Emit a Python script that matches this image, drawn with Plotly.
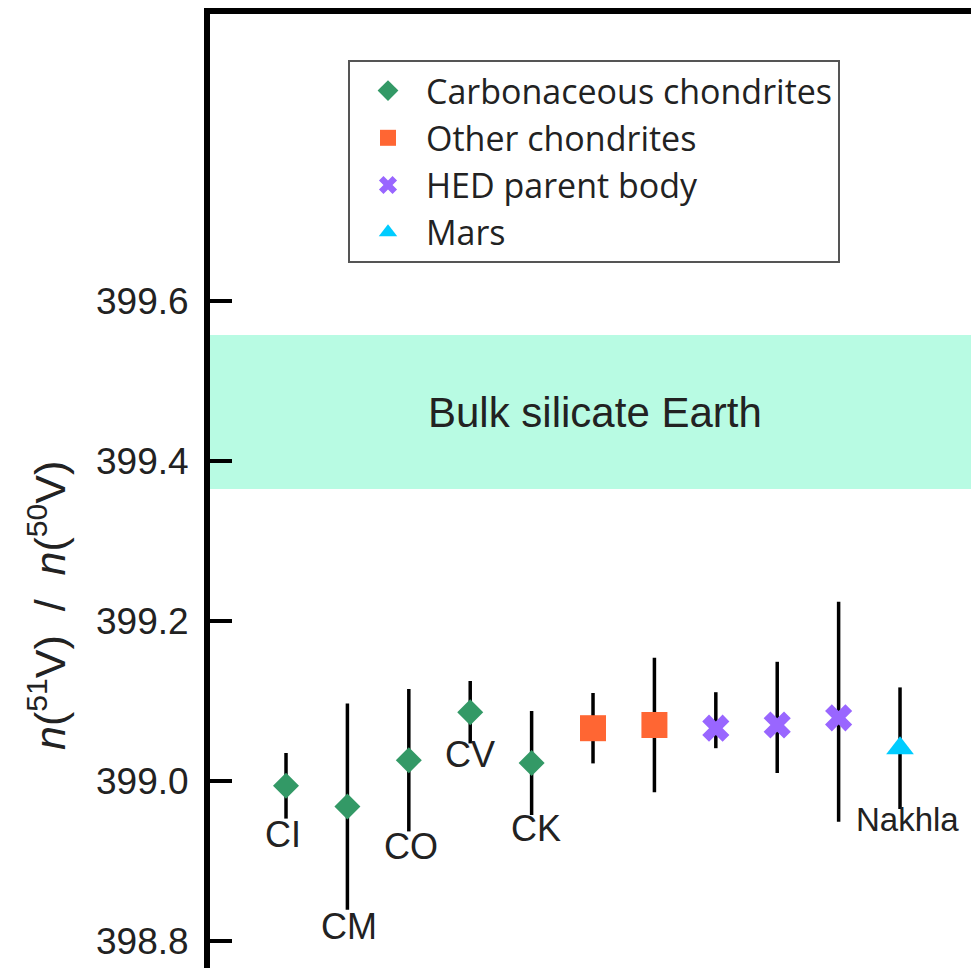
import plotly.graph_objects as go

# ---- data ----
samples = ["CI", "CM", "CO", "CV", "CK", "OC-1", "OC-2", "HED-1", "HED-2", "HED-3", "Nakhla"]
groups = ["Carbonaceous chondrites"] * 5 + ["Other chondrites"] * 2 + ["HED parent body"] * 3 + ["Mars"]
ratio = [398.994, 398.968, 399.026, 399.086, 399.0225, 399.066, 399.070, 399.066, 399.070, 399.079, 399.041]
err_plus = [0.041, 0.129, 0.089, 0.039, 0.065, 0.044, 0.084, 0.045, 0.079, 0.145, 0.076]
err_minus = [0.041, 0.129, 0.089, 0.039, 0.065, 0.044, 0.084, 0.025, 0.060, 0.130, 0.076]
point_labels = ["CI", "CM", "CO", "CV", "CK", "", "", "", "", "", "Nakhla"]
bse_low, bse_high = 399.365, 399.5575
y_ticks = [398.8, 399.0, 399.2, 399.4, 399.6]

# ---- styles ----
group_order = ["Carbonaceous chondrites", "Other chondrites", "HED parent body", "Mars"]
styles = {
    "Carbonaceous chondrites": dict(symbol="diamond", size=20, color="#339966"),
    "Other chondrites": dict(symbol="square", size=26, color="#ff6633"),
    "HED parent body": dict(symbol="x", size=24, color="#9966ff"),
    "Mars": dict(symbol="triangle-up", size=24, color="#00ccff"),
}
label_dy = [49, 120, 86, 42, 65, 0, 0, 0, 0, 0, 71]
label_dx = [-3, 2, 2, 0, 4, 0, 0, 0, 0, 0, 7]
FONT = "Liberation Sans, Arial, sans-serif"
LEGEND_FONT = "Open Sans, Liberation Sans, Arial, sans-serif"

fig = go.Figure()

for g in group_order:
    idx = [i for i, gg in enumerate(groups) if gg == g]
    st = styles[g]
    fig.add_trace(go.Scatter(
        x=[samples[i] for i in idx],
        y=[ratio[i] for i in idx],
        mode="markers",
        name=g,
        marker=dict(symbol=st["symbol"], size=st["size"], color=st["color"], line=dict(width=0)),
        error_y=dict(type="data", symmetric=False,
                     array=[err_plus[i] for i in idx],
                     arrayminus=[err_minus[i] for i in idx],
                     color="black", thickness=3.5, width=0),
    ))

# Bulk silicate Earth band
fig.add_shape(type="rect", xref="paper", yref="y", x0=0, x1=1, y0=bse_low, y1=bse_high,
              fillcolor="#b8fbe3", line=dict(width=0), layer="below")
fig.add_annotation(xref="paper", yref="y", x=0.506, y=(bse_low + bse_high) / 2,
                   text="Bulk silicate Earth", showarrow=False,
                   font=dict(family=FONT, size=42, color="#222"))

# point labels
for i, lab in enumerate(point_labels):
    if not lab:
        continue
    fig.add_annotation(x=samples[i], y=ratio[i], text=lab, showarrow=False,
                       yshift=-label_dy[i], xshift=label_dx[i],
                       font=dict(family=FONT, size=(33 if lab == "Nakhla" else 36), color="#222"))

# y-axis title
fig.add_annotation(xref="paper", yref="paper", x=(47 - 210) / 761, y=1 - (606 - 14) / 954,
                   text="<i>n</i>(<sup>51</sup>V)&nbsp;&nbsp;/&nbsp;&nbsp;<i>n</i>(<sup>50</sup>V)",
                   textangle=-90, showarrow=False, xanchor="center", yanchor="middle",
                   font=dict(family=FONT, size=43, color="#222"))

fig.update_layout(
    width=971, height=968,
    margin=dict(l=210, r=0, t=14, b=0, autoexpand=False),
    paper_bgcolor="white", plot_bgcolor="white",
    font=dict(family=FONT, color="#222"),
    showlegend=True,
    legend=dict(x=(348 - 210) / 761, y=1 - (60 - 14) / 954, xanchor="left", yanchor="top",
                bgcolor="white", bordercolor="#555", borderwidth=2,
                font=dict(family=LEGEND_FONT, size=34, color="#222"), itemwidth=66,
                tracegroupgap=0),
    xaxis=dict(type="category", categoryorder="array", categoryarray=samples,
               range=[-1.238, 11.156], side="top", showline=True, linecolor="black", linewidth=6,
               showticklabels=False, ticks="", showgrid=False, zeroline=False),
    yaxis=dict(range=[398.76625, 399.95875], tickvals=y_ticks,
               ticktext=[f"{v:.1f}" for v in y_ticks],
               showline=True, linecolor="black", linewidth=6,
               ticks="inside", ticklen=22, tickwidth=4, tickcolor="black",
               ticklabelstandoff=8,
               tickfont=dict(family=FONT, size=37, color="#222"),
               showgrid=False, zeroline=False),
)

fig.write_html("out.html", config={"displayModeBar": False},
               post_script="document.body.style.margin='0px';document.body.style.overflow='hidden';")
